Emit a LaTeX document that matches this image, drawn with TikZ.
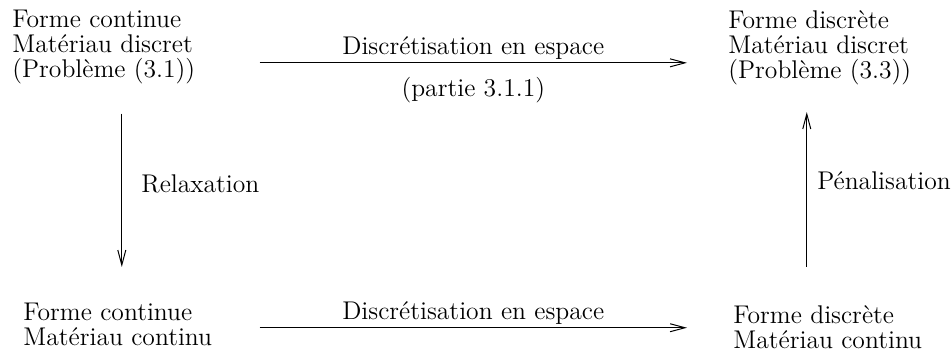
\documentclass[tikz,border=0pt]{standalone}
\usepackage{fontspec}
\usepackage{tikz}
\usetikzlibrary{calc, arrows.meta}

\begin{document}
\begin{tikzpicture}[
  x=0.5pt, y=-0.5pt,
  every node/.style={inner sep=0pt, font=\fontsize{12.8}{12.5}\selectfont},
  block/.style={anchor=north west, align=left},
  arr/.style={line width=0.5pt, -{Straight Barb[length=7.5pt, width=4pt, line width=0.5pt]}}
]
\useasboundingbox (0,0) rectangle (952,356);
% les quatre problemes
\node[block] (tl) at (12,10)   {Forme continue\\Matériau discret\\(Problème (3.1))};
\node[block] (tr) at (728,10)  {Forme discrète\\Matériau discret\\(Problème (3.3))};
\node[block] (bl) at (23,303)  {Forme continue\\Matériau continu};
\node[block] (br) at (733,305) {Forme discrète\\Matériau continu};
% fleches
\draw[arr] ($(tl.east)+(64,15.5)$) -- ($(tl.east -| tr.west)+(-41,15.5)$)
  node[midway, above=1.5pt] {Discrétisation en espace}
  node[midway, below=7pt] {(partie 3.1.1)};
\draw[arr] ($(bl.east)+(47,3)$) -- ($(bl.east -| br.west)+(-46,3)$)
  node[midway, above=1.5pt] {Discrétisation en espace};
\draw[arr] ($(tl.south)+(18,29)$) -- ($(tl.south |- bl.north)+(18,-36)$)
  node[midway, right=9.5pt, yshift=3.25pt] {Relaxation};
\draw[arr] ($(br.north)+(-21,-38)$) -- ($(br.north |- tr.south)+(-21,27)$)
  node[midway, right=5pt, yshift=4.25pt] {Pénalisation};
\end{tikzpicture}
\end{document}
